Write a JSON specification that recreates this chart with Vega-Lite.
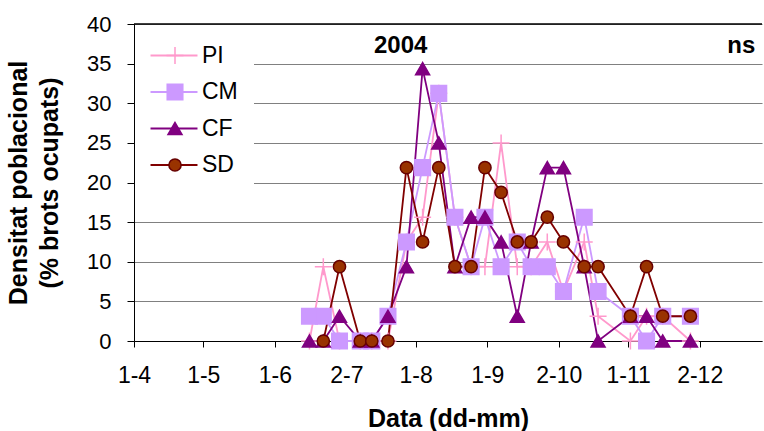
{
  "$schema": "https://vega.github.io/schema/vega-lite/v6.json",
  "width": 628,
  "height": 317,
  "autosize": {"type": "none"},
  "padding": {"left": 134, "top": 24, "right": 2, "bottom": 90},
  "background": "white",
  "config": {"view": {"stroke": null}, "font": "Liberation Sans"},
  "data": {"values": [
    {"date": "2004-06-16", "series": "PI", "value": 0},
    {"date": "2004-06-22", "series": "PI", "value": 9.375},
    {"date": "2004-06-29", "series": "PI", "value": 0},
    {"date": "2004-07-08", "series": "PI", "value": 0},
    {"date": "2004-07-13", "series": "PI", "value": 0},
    {"date": "2004-07-20", "series": "PI", "value": 0},
    {"date": "2004-07-28", "series": "PI", "value": 12.5},
    {"date": "2004-08-04", "series": "PI", "value": 15.625},
    {"date": "2004-08-11", "series": "PI", "value": 31.25},
    {"date": "2004-08-18", "series": "PI", "value": 15.625},
    {"date": "2004-08-25", "series": "PI", "value": 9.375},
    {"date": "2004-08-31", "series": "PI", "value": 9.375},
    {"date": "2004-09-07", "series": "PI", "value": 25},
    {"date": "2004-09-14", "series": "PI", "value": 9.375},
    {"date": "2004-09-20", "series": "PI", "value": 9.375},
    {"date": "2004-09-27", "series": "PI", "value": 12.5},
    {"date": "2004-10-04", "series": "PI", "value": 6.25},
    {"date": "2004-10-13", "series": "PI", "value": 12.5},
    {"date": "2004-10-19", "series": "PI", "value": 3.125},
    {"date": "2004-11-02", "series": "PI", "value": 0},
    {"date": "2004-11-09", "series": "PI", "value": 3.125},
    {"date": "2004-11-16", "series": "PI", "value": 3.125},
    {"date": "2004-11-28", "series": "PI", "value": 0},
    {"date": "2004-06-16", "series": "CM", "value": 3.125},
    {"date": "2004-06-22", "series": "CM", "value": 3.125},
    {"date": "2004-06-29", "series": "CM", "value": 0},
    {"date": "2004-07-08", "series": "CM", "value": 0},
    {"date": "2004-07-13", "series": "CM", "value": 0},
    {"date": "2004-07-20", "series": "CM", "value": 3.125},
    {"date": "2004-07-28", "series": "CM", "value": 12.5},
    {"date": "2004-08-04", "series": "CM", "value": 21.875},
    {"date": "2004-08-11", "series": "CM", "value": 31.25},
    {"date": "2004-08-18", "series": "CM", "value": 15.625},
    {"date": "2004-08-25", "series": "CM", "value": 9.375},
    {"date": "2004-08-31", "series": "CM", "value": 15.625},
    {"date": "2004-09-07", "series": "CM", "value": 9.375},
    {"date": "2004-09-14", "series": "CM", "value": 12.5},
    {"date": "2004-09-20", "series": "CM", "value": 9.375},
    {"date": "2004-09-27", "series": "CM", "value": 9.375},
    {"date": "2004-10-04", "series": "CM", "value": 6.25},
    {"date": "2004-10-13", "series": "CM", "value": 15.625},
    {"date": "2004-10-19", "series": "CM", "value": 6.25},
    {"date": "2004-11-02", "series": "CM", "value": 3.125},
    {"date": "2004-11-09", "series": "CM", "value": 0},
    {"date": "2004-11-16", "series": "CM", "value": 3.125},
    {"date": "2004-11-28", "series": "CM", "value": 3.125},
    {"date": "2004-06-16", "series": "CF", "value": 0},
    {"date": "2004-06-22", "series": "CF", "value": 0},
    {"date": "2004-06-29", "series": "CF", "value": 3.125},
    {"date": "2004-07-08", "series": "CF", "value": 0},
    {"date": "2004-07-13", "series": "CF", "value": 0},
    {"date": "2004-07-20", "series": "CF", "value": 3.125},
    {"date": "2004-07-28", "series": "CF", "value": 9.375},
    {"date": "2004-08-04", "series": "CF", "value": 34.375},
    {"date": "2004-08-11", "series": "CF", "value": 25},
    {"date": "2004-08-18", "series": "CF", "value": 9.375},
    {"date": "2004-08-25", "series": "CF", "value": 15.625},
    {"date": "2004-08-31", "series": "CF", "value": 15.625},
    {"date": "2004-09-07", "series": "CF", "value": 12.5},
    {"date": "2004-09-14", "series": "CF", "value": 3.125},
    {"date": "2004-09-20", "series": "CF", "value": 12.5},
    {"date": "2004-09-27", "series": "CF", "value": 21.875},
    {"date": "2004-10-04", "series": "CF", "value": 21.875},
    {"date": "2004-10-13", "series": "CF", "value": 9.375},
    {"date": "2004-10-19", "series": "CF", "value": 0},
    {"date": "2004-11-02", "series": "CF", "value": 3.125},
    {"date": "2004-11-09", "series": "CF", "value": 3.125},
    {"date": "2004-11-16", "series": "CF", "value": 0},
    {"date": "2004-11-28", "series": "CF", "value": 0},
    {"date": "2004-06-22", "series": "SD", "value": 0},
    {"date": "2004-06-29", "series": "SD", "value": 9.375},
    {"date": "2004-07-08", "series": "SD", "value": 0},
    {"date": "2004-07-13", "series": "SD", "value": 0},
    {"date": "2004-07-20", "series": "SD", "value": 0},
    {"date": "2004-07-28", "series": "SD", "value": 21.875},
    {"date": "2004-08-04", "series": "SD", "value": 12.5},
    {"date": "2004-08-11", "series": "SD", "value": 21.875},
    {"date": "2004-08-18", "series": "SD", "value": 9.375},
    {"date": "2004-08-25", "series": "SD", "value": 9.375},
    {"date": "2004-08-31", "series": "SD", "value": 21.875},
    {"date": "2004-09-07", "series": "SD", "value": 18.75},
    {"date": "2004-09-14", "series": "SD", "value": 12.5},
    {"date": "2004-09-20", "series": "SD", "value": 12.5},
    {"date": "2004-09-27", "series": "SD", "value": 15.625},
    {"date": "2004-10-04", "series": "SD", "value": 12.5},
    {"date": "2004-10-13", "series": "SD", "value": 9.375},
    {"date": "2004-10-19", "series": "SD", "value": 9.375},
    {"date": "2004-11-02", "series": "SD", "value": 3.125},
    {"date": "2004-11-09", "series": "SD", "value": 9.375},
    {"date": "2004-11-16", "series": "SD", "value": 3.125},
    {"date": "2004-11-28", "series": "SD", "value": 3.125}
  ]},
  "encoding": {
    "x": {
      "field": "date", "type": "temporal",
      "scale": {"type": "utc", "domain": [{"year": 2004, "month": 4, "date": 1, "utc": true}, {"year": 2004, "month": 12, "date": 29, "utc": true}]},
      "axis": {
        "values": [
          {"year": 2004, "month": 4, "date": 1, "utc": true},
          {"year": 2004, "month": 5, "date": 1, "utc": true},
          {"year": 2004, "month": 6, "date": 1, "utc": true},
          {"year": 2004, "month": 7, "date": 2, "utc": true},
          {"year": 2004, "month": 8, "date": 1, "utc": true},
          {"year": 2004, "month": 9, "date": 1, "utc": true},
          {"year": 2004, "month": 10, "date": 2, "utc": true},
          {"year": 2004, "month": 11, "date": 1, "utc": true},
          {"year": 2004, "month": 12, "date": 2, "utc": true}
        ],
        "labelExpr": "utcFormat(datum.value, '%-d-%-m')",
        "grid": false, "domainColor": "black", "domainWidth": 1,
        "tickColor": "black", "tickSize": 6, "tickWidth": 1,
        "labelFontSize": 23, "labelColor": "black", "labelPadding": 17,
        "labelOverlap": false, "labelFlush": false,
        "title": "Data (dd-mm)", "titleFontSize": 25, "titleFontWeight": "bold",
        "titleColor": "black", "titlePadding": 19
      }
    },
    "y": {
      "field": "value", "type": "quantitative",
      "scale": {"domain": [0, 40], "nice": false},
      "axis": {
        "values": [0, 5, 10, 15, 20, 25, 30, 35, 40],
        "grid": true, "gridColor": "#808080", "gridWidth": 1.2,
        "domainColor": "black", "domainWidth": 1,
        "tickColor": "black", "tickSize": 7, "tickWidth": 1,
        "labelFontSize": 22, "labelColor": "black", "labelPadding": 16,
        "title": ["Densitat poblacional", "(% brots ocupats)"],
        "titleFontSize": 25, "titleFontWeight": "bold", "titleColor": "black",
        "titleLineHeight": 31, "titlePadding": 24
      }
    }
  },
  "layer": [
    {
      "transform": [
        {"filter": "datum.series === 'PI'"},
        {"aggregate": [{"op": "min", "field": "date", "as": "date"}, {"op": "max", "field": "value", "as": "value"}]}
      ],
      "mark": {"type": "rule", "color": "black", "strokeWidth": 1.5},
      "encoding": {"x": null, "y": {"datum": 40}}
    },
    {
      "mark": {"type": "line", "strokeWidth": 1.8},
      "encoding": {
        "color": {
          "field": "series", "type": "nominal",
          "scale": {"domain": ["CF", "CM", "PI", "SD"], "range": ["#800080", "#CC99FF", "#FF99CC", "#800000"]},
          "legend": {
            "orient": "none", "legendX": 1, "legendY": 4.5, "title": null,
            "values": ["PI", "CM", "CF", "SD"],
            "symbolType": "M-2.5,0H2.5", "symbolSize": 353, "symbolStrokeWidth": 2,
            "symbolOffset": 12, "labelOffset": 16.5,
            "fillColor": "white",
            "padding": 15.5, "labelFontSize": 23,
            "labelColor": "black", "rowPadding": 12.5, "zindex": 3
          }
        }
      }
    },
    {
      "mark": {"type": "point", "opacity": 1, "strokeWidth": 1.5},
      "encoding": {
        "shape": {
          "field": "series", "type": "nominal",
          "scale": {"domain": ["PI", "CM", "CF", "SD"], "range": ["M-1,0H1M0,-1V1", "square", "triangle-up", "circle"]},
          "legend": {
            "orient": "none", "legendX": 1, "legendY": 4.5, "title": null,
            "symbolStrokeWidth": 1.5, "symbolOffset": 13, "padding": 15.5,
            "labelFontSize": 23, "labelOpacity": 0, "labelExpr": "' '", "labelOffset": 33.5, "rowPadding": 12.5, "zindex": 4
          }
        },
        "fill": {
          "field": "series", "type": "nominal",
          "scale": {"domain": ["PI", "CM", "CF", "SD"], "range": ["#FF99CC", "#CC99FF", "#800080", "#993300"]},
          "legend": {
            "orient": "none", "legendX": 1, "legendY": 4.5, "title": null,
            "symbolStrokeWidth": 1.5, "symbolOffset": 13, "padding": 15.5,
            "labelFontSize": 23, "labelOpacity": 0, "labelExpr": "' '", "labelOffset": 33.5, "rowPadding": 12.5, "zindex": 4
          }
        },
        "stroke": {
          "field": "series", "type": "nominal",
          "scale": {"domain": ["PI", "CM", "CF", "SD"], "range": ["#FF99CC", "#CC99FF", "#800080", "#660000"]},
          "legend": {
            "orient": "none", "legendX": 1, "legendY": 4.5, "title": null,
            "symbolStrokeWidth": 1.5, "symbolOffset": 13, "padding": 15.5,
            "labelFontSize": 23, "labelOpacity": 0, "labelExpr": "' '", "labelOffset": 33.5, "rowPadding": 12.5, "zindex": 4
          }
        },
        "size": {
          "field": "series", "type": "nominal",
          "scale": {"domain": ["PI", "CM", "CF", "SD"], "range": [289, 150, 170, 150]},
          "legend": {
            "orient": "none", "legendX": 1, "legendY": 4.5, "title": null,
            "symbolStrokeWidth": 1.5, "symbolOffset": 13, "padding": 15.5,
            "labelFontSize": 23, "labelOpacity": 0, "labelExpr": "' '", "labelOffset": 33.5, "rowPadding": 12.5, "zindex": 4
          }
        }
      }
    },
    {
      "transform": [
        {"filter": "datum.series === 'PI'"},
        {"aggregate": [{"op": "min", "field": "date", "as": "date"}, {"op": "max", "field": "value", "as": "value"}]}
      ],
      "mark": {"type": "text", "fontSize": 24, "fontWeight": "bold", "color": "black", "align": "center", "baseline": "alphabetic"},
      "encoding": {
        "x": {"datum": {"year": 2004, "month": 7, "date": 25, "hours": 12, "utc": true}, "type": "temporal"},
        "y": {"datum": 36.4},
        "text": {"value": "2004"}
      }
    },
    {
      "transform": [
        {"filter": "datum.series === 'PI'"},
        {"aggregate": [{"op": "min", "field": "date", "as": "date"}, {"op": "max", "field": "value", "as": "value"}]}
      ],
      "mark": {"type": "text", "fontSize": 24, "fontWeight": "bold", "color": "black", "align": "center", "baseline": "alphabetic"},
      "encoding": {
        "x": {"datum": {"year": 2004, "month": 12, "date": 20, "utc": true}, "type": "temporal"},
        "y": {"datum": 36.4},
        "text": {"value": "ns"}
      }
    }
  ]
}
